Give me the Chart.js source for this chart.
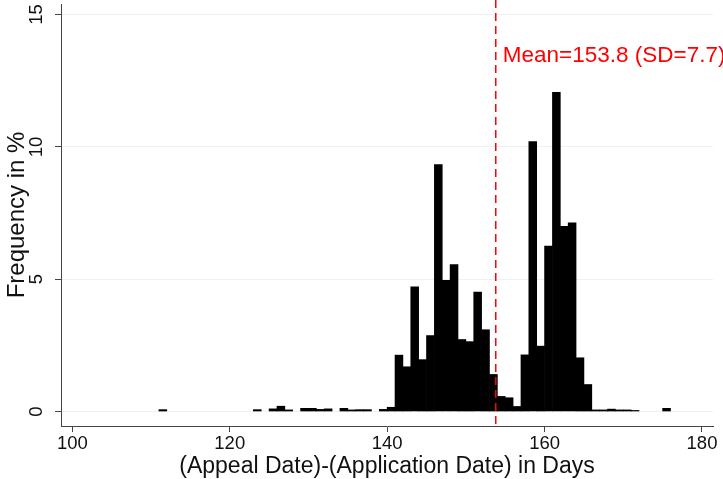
<!DOCTYPE html>
<html>
<head>
<meta charset="utf-8">
<script src="https://cdn.jsdelivr.net/npm/chart.js@4.4.1/dist/chart.umd.min.js"></script>
<style>
  html, body { margin: 0; padding: 0; background: #fff; }
  #hist { display: block; }
</style>
</head>
<body>
<canvas id="hist" width="723" height="479"></canvas>
<script>
// one-day bins (left edge, days) and share of cases in each bin (%)
const binStart = [111, 123, 125, 126, 127, 129, 130, 131, 132, 134, 135, 136, 137,
  139, 140, 141, 142, 143, 144, 145, 146, 147, 148, 149, 150, 151, 152, 153, 154,
  155, 156, 157, 158, 159, 160, 161, 162, 163, 164, 165, 166, 167, 168, 169, 170,
  171, 175];
const freqPct = [0.07, 0.07, 0.1, 0.2, 0.06, 0.12, 0.12, 0.08, 0.1, 0.12, 0.06, 0.07, 0.07,
  0.08, 0.16, 2.13, 1.69, 4.71, 1.96, 2.87, 9.33, 4.96, 5.55, 2.72, 2.64, 4.51, 3.09, 1.4, 0.57,
  0.52, 0.19, 2.14, 10.2, 2.47, 6.25, 12.06, 7.0, 7.13, 2.03, 1.02, 0.06, 0.06, 0.09, 0.06, 0.06,
  0.04, 0.12];
const xTicks = [100, 120, 140, 160, 180];
const yTicks = [0, 5, 10, 15];
const meanDays = 153.8;
const sdDays = 7.7;

const family = '"Liberation Sans", Arial, Helvetica, sans-serif';

// dashed mean marker with its caption
const meanLine = {
  id: 'meanLine',
  afterDatasetsDraw(chart) {
    const { ctx, chartArea, scales: { x, y } } = chart;
    const px = x.getPixelForValue(meanDays);
    ctx.save();
    ctx.strokeStyle = '#ff0000';
    ctx.lineWidth = 1.5;
    ctx.setLineDash([8, 5]);
    ctx.beginPath();
    ctx.moveTo(px, 0);
    ctx.lineTo(px, chartArea.bottom + 3);
    ctx.stroke();
    ctx.setLineDash([]);
    ctx.fillStyle = '#ff0000';
    ctx.font = '22.5px ' + family;
    ctx.textAlign = 'left';
    ctx.textBaseline = 'alphabetic';
    ctx.fillText('Mean=' + meanDays + ' (SD=' + sdDays + ')', px + 7, y.getPixelForValue(13.2));
    ctx.restore();
  }
};

new Chart(document.getElementById('hist'), {
  type: 'bar',
  data: {
    datasets: [{
      data: binStart.map((b, i) => ({ x: b + 0.5, y: freqPct[i] })),
      backgroundColor: '#000',
      borderWidth: 0,
      barPercentage: 1,
      categoryPercentage: 1
    }]
  },
  options: {
    responsive: false,
    devicePixelRatio: 1,
    animation: false,
    layout: { padding: { top: 4, right: 10, left: 0, bottom: 0 } },
    plugins: { legend: { display: false }, tooltip: { enabled: false } },
    scales: {
      x: {
        type: 'linear',
        min: 98.56,
        max: 181.4,
        offset: false,
        afterBuildTicks: s => { s.ticks = xTicks.map(v => ({ value: v })); },
        afterFit: s => { s.height = 53; s.paddingLeft = 0; s.paddingRight = 0; },
        grid: { display: true, drawOnChartArea: false, offset: false, tickLength: 6, tickColor: '#444', tickWidth: 1 },
        border: { color: '#444', width: 1 },
        ticks: { color: '#111', font: { family, size: 18.5 }, padding: 1, maxRotation: 0, autoSkip: false },
        title: {
          display: true,
          text: '(Appeal Date)-(Application Date) in Days',
          color: '#111',
          font: { family, size: 23, lineHeight: 1 },
          padding: { top: 0, bottom: 1 }
        }
      },
      y: {
        min: -0.548,
        max: 15.4,
        afterBuildTicks: s => { s.ticks = yTicks.map(v => ({ value: v })); },
        afterFit: s => { s.width = 61; s.paddingTop = 0; s.paddingBottom = 0; },
        grid: { color: '#eaf2f3', lineWidth: 1, tickLength: 6, tickColor: '#444' },
        border: { color: '#444', width: 1 },
        ticks: { color: '#111', font: { family, size: 18.5 }, minRotation: 90, maxRotation: 90, crossAlign: 'center', padding: 8 },
        title: {
          display: true,
          text: 'Frequency in %',
          color: '#111',
          font: { family, size: 24, lineHeight: 1 },
          padding: { top: 5, bottom: 0 }
        }
      }
    }
  },
  plugins: [meanLine]
});
</script>
</body>
</html>
